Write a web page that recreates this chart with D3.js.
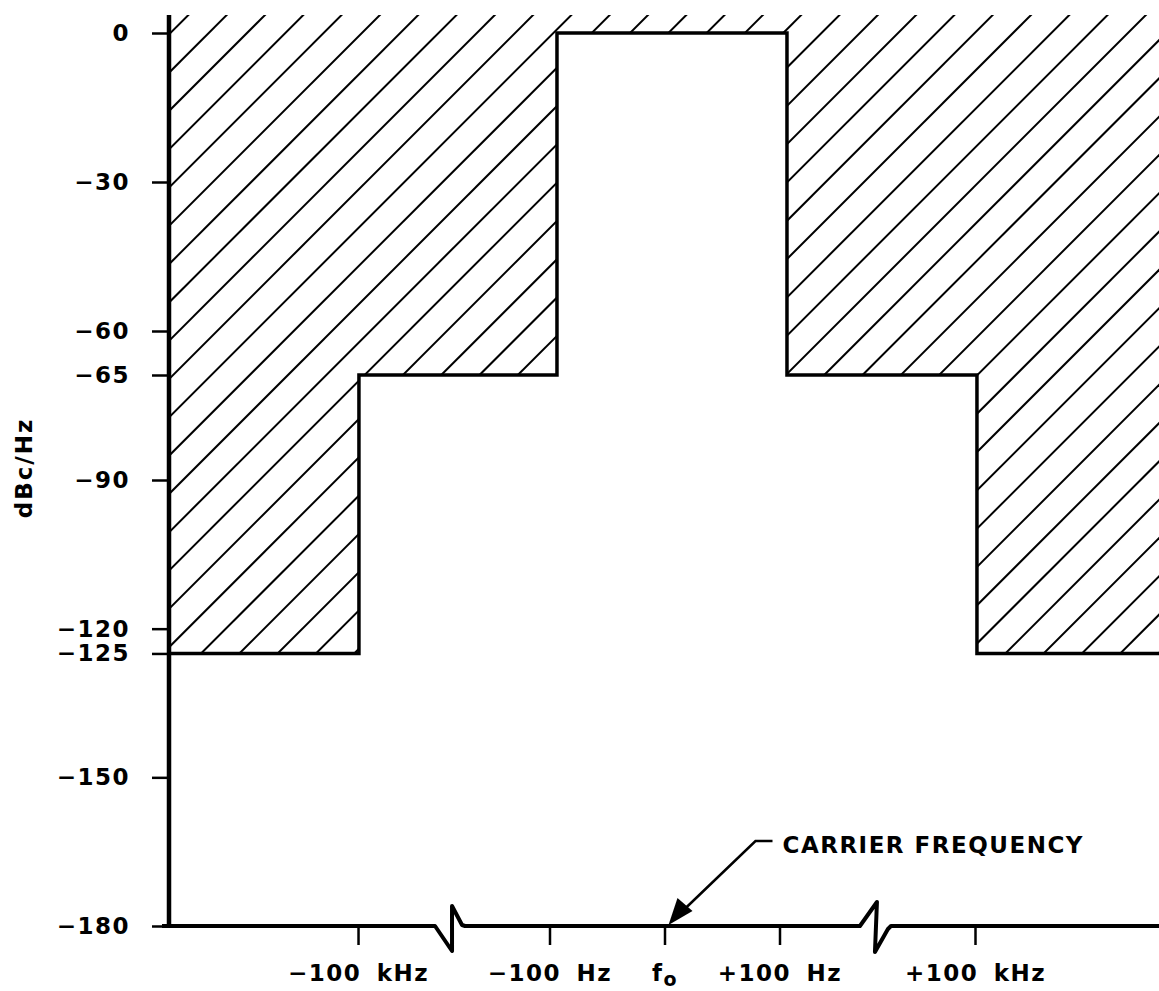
<!DOCTYPE html>
<html>
<head>
<meta charset="utf-8">
<script src="https://cdn.jsdelivr.net/npm/d3@7"></script>
<style>
    body { margin: 0; background: #fff; }
    svg { display: block; }
    text { font-family: "DejaVu Sans", Arial, sans-serif; font-weight: bold; fill: #000; }
</style>
</head>
<body>
<svg id="chart" width="1159" height="991"></svg>
<script>
// y values (dBc/Hz)
const yTicks = [0, -30, -60, -65, -90, -120, -125, -150, -180];

// x is a broken axis: 1 unit = one "100 Hz" step away from the carrier
const xTickPos    = [-2.665, -1.0, 0, 1.0, 2.7];
const xTickLabels = ['\u2212100 kHz', '\u2212100 Hz', 'fo', '+100 Hz', '+100 kHz'];
const xBreaks     = [-1.865, 1.83];

// phase noise mask: edges and the level between each pair of edges
const maskEdges  = [-4.32, -2.657, -0.935, 1.065, 2.717, 4.5];
const maskLevels = [-125, -65, 0, -65, -125];

const yTopValue = 3.6;   // hatching runs a bit above 0 dB

const svg = d3.select('#chart');

const xScale = d3.scaleLinear().domain([-4.3, 4.3]).range([170, 1159]);
// the drawing is not to scale around -65, so the scale is piecewise
const yScale = d3.scaleLinear()
    .domain([0, -60, -65, -90, -180])
    .range([33, 331, 375, 480, 926]);

const x0 = xScale(-4.3) - 2;
const yBottom = yScale(-180);
const yTop = yScale(yTopValue);

// mask points as a step line
const stepPts = maskLevels.map((v, i) => [maskEdges[i], v]);
stepPts.push([maskEdges[maskEdges.length - 1], maskLevels[maskLevels.length - 1]]);

const stepLine = d3.line()
    .x(d => xScale(d[0]))
    .y(d => yScale(d[1]))
    .curve(d3.curveStepAfter);

// hatched area above the mask, used as a clip for the hatch lines
const areaD = 'M' + xScale(maskEdges[0]) + ',' + yTop +
    stepLine(stepPts).replace(/^M/, 'L') +
    'L' + xScale(maskEdges[maskEdges.length - 1]) + ',' + yTop + 'Z';

svg.append('defs').append('clipPath')
    .attr('id', 'maskClip')
    .append('path')
    .attr('d', areaD);

const hatchBottom = yScale(d3.min(maskLevels));
const hatchH = hatchBottom - yTop;
const gap = 38.3;
const hatchStarts = d3.range(x0 - hatchH - 20, 1200, gap);

svg.append('g')
    .attr('clip-path', 'url(#maskClip)')
    .selectAll('line')
    .data(hatchStarts)
    .join('line')
    .attr('x1', d => d)
    .attr('y1', hatchBottom + 2)
    .attr('x2', d => d + hatchH + 4)
    .attr('y2', yTop - 2)
    .attr('stroke', '#000')
    .attr('stroke-width', 2);

svg.append('path')
    .attr('d', stepLine(stepPts))
    .attr('fill', 'none')
    .attr('stroke', '#000')
    .attr('stroke-width', 3.5);

// y axis
const yAxis = d3.axisLeft(yScale)
    .tickValues(yTicks)
    .tickSize(17)
    .tickPadding(22);

const gy = svg.append('g')
    .attr('transform', `translate(${x0 + 1},0)`)
    .call(yAxis);
gy.select('.domain').remove();
gy.selectAll('line').attr('stroke', '#000').attr('stroke-width', 2.5);
gy.selectAll('text')
    .attr('font-size', 23)
    .attr('letter-spacing', 1.5)
    .style('font-family', '"DejaVu Sans", Arial, sans-serif')
    .style('font-weight', 'bold');

svg.append('line')
    .attr('x1', x0 + 1).attr('x2', x0 + 1)
    .attr('y1', yTop).attr('y2', yBottom + 2)
    .attr('stroke', '#000')
    .attr('stroke-width', 4.5);

// x axis with two break marks
const xAxis = d3.axisBottom(xScale)
    .tickValues(xTickPos)
    .tickSize(19)
    .tickPadding(20)
    .tickFormat((d, i) => xTickLabels[i]);

const gx = svg.append('g')
    .attr('transform', `translate(0,${yBottom})`)
    .call(xAxis);
gx.select('.domain').remove();
gx.selectAll('line').attr('stroke', '#000').attr('stroke-width', 2.5);
gx.selectAll('text')
    .attr('font-size', 23)
    .attr('letter-spacing', 1.5)
    .attr('word-spacing', 6)
    .style('font-family', '"DejaVu Sans", Arial, sans-serif')
    .style('font-weight', 'bold');

// f with subscript o
gx.selectAll('text').filter((d, i) => xTickLabels[i] === 'fo')
    .text(null)
    .call(t => {
        t.append('tspan').text('f');
        t.append('tspan').attr('dy', 5).attr('font-size', 19).text('o');
    });

const b1 = xScale(xBreaks[0]);
const b2 = xScale(xBreaks[1]);
const axisPath = [
    [x0 - 6, yBottom],
    [b1 - 15, yBottom], [b1 + 2, yBottom + 25], [b1 + 2, yBottom - 20], [b1 + 12, yBottom - 1], [b1 + 15, yBottom],
    [b2 - 15, yBottom], [b2 + 2, yBottom - 24], [b2, yBottom + 26], [b2 + 13, yBottom + 3], [b2 + 16, yBottom],
    [1165, yBottom]
];
svg.append('path')
    .attr('d', d3.line()(axisPath))
    .attr('fill', 'none')
    .attr('stroke', '#000')
    .attr('stroke-width', 4)
    .attr('stroke-linejoin', 'round');

// y label
svg.append('text')
    .attr('transform', `translate(32,468) rotate(-90)`)
    .attr('text-anchor', 'middle')
    .attr('font-size', 23)
    .attr('letter-spacing', 2)
    .text('dBc/Hz');

// carrier frequency note
const tipX = xScale(0) + 4;
const tipY = yBottom - 1;

svg.append('path')
    .attr('d', `M${tipX + 104},${tipY - 84} L${tipX + 87},${tipY - 84} L${tipX + 12},${tipY - 12}`)
    .attr('fill', 'none')
    .attr('stroke', '#000')
    .attr('stroke-width', 2.5);
svg.append('path')
    .attr('d', `M${tipX},${tipY} L${tipX + 9},${tipY - 27} L${tipX + 24},${tipY - 14} Z`)
    .attr('fill', '#000');

svg.append('text')
    .attr('x', tipX + 114)
    .attr('y', tipY - 72)
    .attr('font-size', 23)
    .attr('letter-spacing', 1.5)
    .text('CARRIER FREQUENCY');
</script>
</body>
</html>
